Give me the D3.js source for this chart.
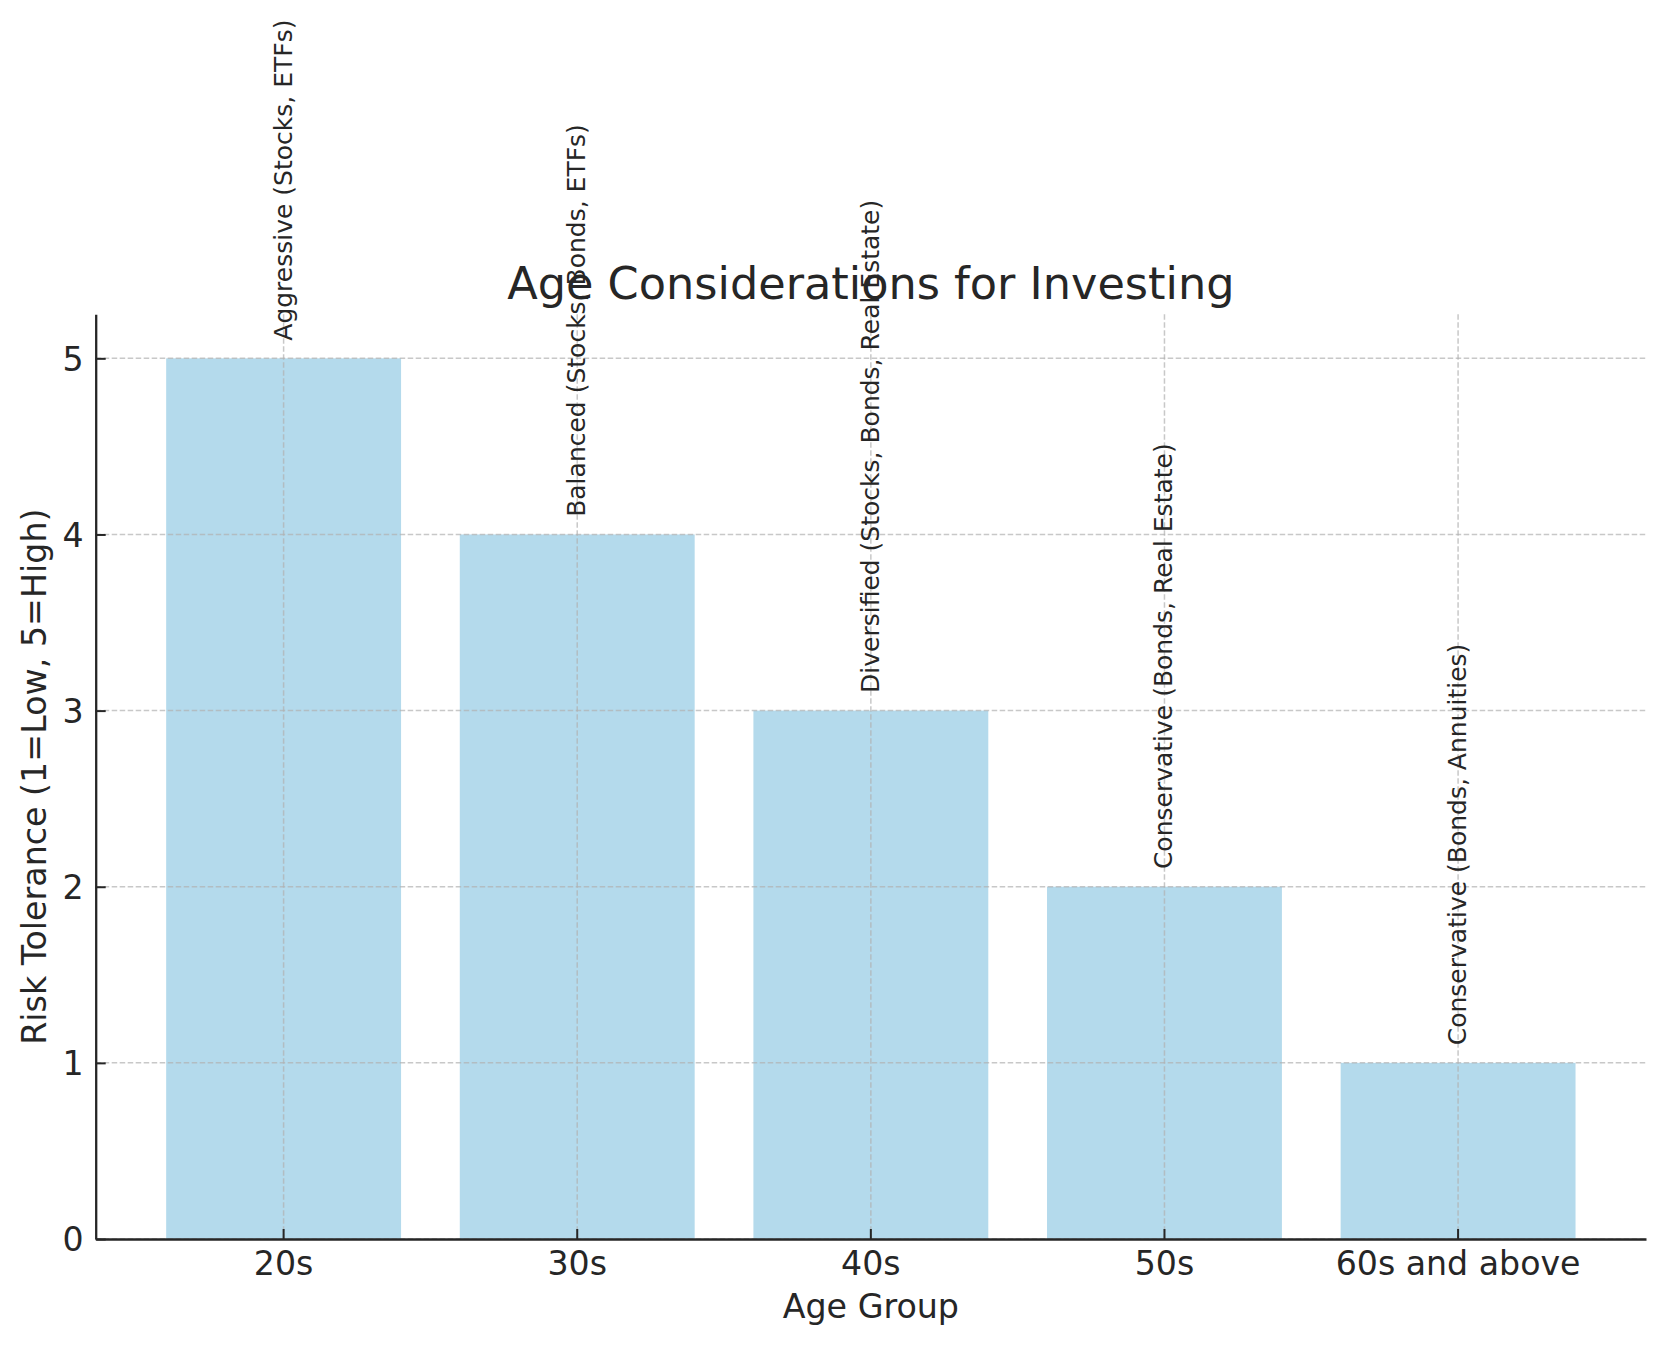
<!DOCTYPE html>
<html>
<head>
<meta charset="utf-8">
<script src="https://cdn.jsdelivr.net/npm/d3@7"></script>
<style>
  body { margin: 0; background: #fff; }
  text { font-family: "DejaVu Sans", sans-serif; fill: #262626; }
</style>
</head>
<body>
<svg id="chart" width="1665" height="1346"></svg>
<script>
var ageGroups = ['20s', '30s', '40s', '50s', '60s and above'];
var riskTolerance = [5, 4, 3, 2, 1];
var strategies = [
  'Aggressive (Stocks, ETFs)',
  'Balanced (Stocks, Bonds, ETFs)',
  'Diversified (Stocks, Bonds, Real Estate)',
  'Conservative (Bonds, Real Estate)',
  'Conservative (Bonds, Annuities)'
];
var yTicks = [0, 1, 2, 3, 4, 5];

var svg = d3.select('#chart');
// plot box (note: "top" is reserved on window, so use other names)
var plotLeft = 95.7, plotRight = 1646, plotTop = 314.3, plotBottom = 1239;

var x = d3.scaleBand()
  .domain(ageGroups)
  .range([plotLeft, plotRight])
  .paddingInner(0.2)
  .paddingOuter(0.24);

var y = d3.scaleLinear()
  .domain([0, 5.25])
  .range([plotBottom, plotTop]);

var data = ageGroups.map(function(g, i) {
  return { group: g, value: riskTolerance[i], label: strategies[i] };
});

// bars
svg.append('g')
  .selectAll('rect')
  .data(data)
  .enter().append('rect')
  .attr('x', function(d) { return x(d.group); })
  .attr('y', function(d) { return y(d.value); })
  .attr('width', x.bandwidth())
  .attr('height', function(d) { return y(0) - y(d.value); })
  .attr('fill', '#b4daec');

// grid (drawn over the bars, like matplotlib)
var grid = svg.append('g')
  .attr('stroke', '#b0b0b0')
  .attr('stroke-opacity', 0.7)
  .attr('stroke-width', 1.5)
  .attr('stroke-dasharray', '5.5,2.5');

grid.selectAll('line.h')
  .data(yTicks)
  .enter().append('line')
  .attr('class', 'h')
  .attr('x1', plotLeft).attr('x2', plotRight)
  .attr('y1', function(d) { return y(d); })
  .attr('y2', function(d) { return y(d); });

grid.selectAll('line.v')
  .data(ageGroups)
  .enter().append('line')
  .attr('class', 'v')
  .attr('x1', function(d) { return x(d) + x.bandwidth() / 2; })
  .attr('x2', function(d) { return x(d) + x.bandwidth() / 2; })
  .attr('y1', plotTop).attr('y2', plotBottom);

// axes
var xAxis = svg.append('g')
  .attr('transform', 'translate(0,' + plotBottom + ')')
  .call(d3.axisBottom(x).tickSizeInner(-10).tickSizeOuter(0).tickPadding(35.5));

var yAxis = svg.append('g')
  .attr('transform', 'translate(' + plotLeft + ',0)')
  .call(d3.axisLeft(y).tickValues(yTicks).tickFormat(d3.format('d')).tickSizeInner(-10).tickSizeOuter(0).tickPadding(12));

[xAxis, yAxis].forEach(function(a) {
  a.select('.domain').attr('stroke', '#262626').attr('stroke-width', 2.3);
  a.selectAll('.tick line').attr('stroke', '#262626').attr('stroke-width', 2);
  a.selectAll('.tick text')
    .attr('font-family', '"DejaVu Sans", sans-serif')
    .attr('font-size', 33.2)
    .attr('fill', '#262626');
});
xAxis.selectAll('.tick text').attr('dy', 0);
yAxis.selectAll('.tick text').attr('dy', '0.36em');

// axis titles
svg.append('text')
  .attr('x', (plotLeft + plotRight) / 2)
  .attr('y', 1318)
  .attr('text-anchor', 'middle')
  .attr('font-size', 33.3)
  .text('Age Group');

svg.append('text')
  .attr('transform', 'translate(45.5,' + (plotTop + plotBottom) / 2 + ') rotate(-90)')
  .attr('text-anchor', 'middle')
  .attr('font-size', 33.3)
  .text('Risk Tolerance (1=Low, 5=High)');

// title
svg.append('text')
  .attr('x', (plotLeft + plotRight) / 2)
  .attr('y', 299)
  .attr('text-anchor', 'middle')
  .attr('font-size', 44.6)
  .text('Age Considerations for Investing');

// rotated strategy labels above bars
svg.append('g')
  .selectAll('text')
  .data(data)
  .enter().append('text')
  .attr('transform', function(d) {
    return 'translate(' + (x(d.group) + x.bandwidth() / 2) + ',' + y(d.value + 0.1) + ') rotate(-90)';
  })
  .attr('dy', '0.32em')
  .attr('font-size', 25)
  .text(function(d) { return d.label; });
</script>
</body>
</html>
